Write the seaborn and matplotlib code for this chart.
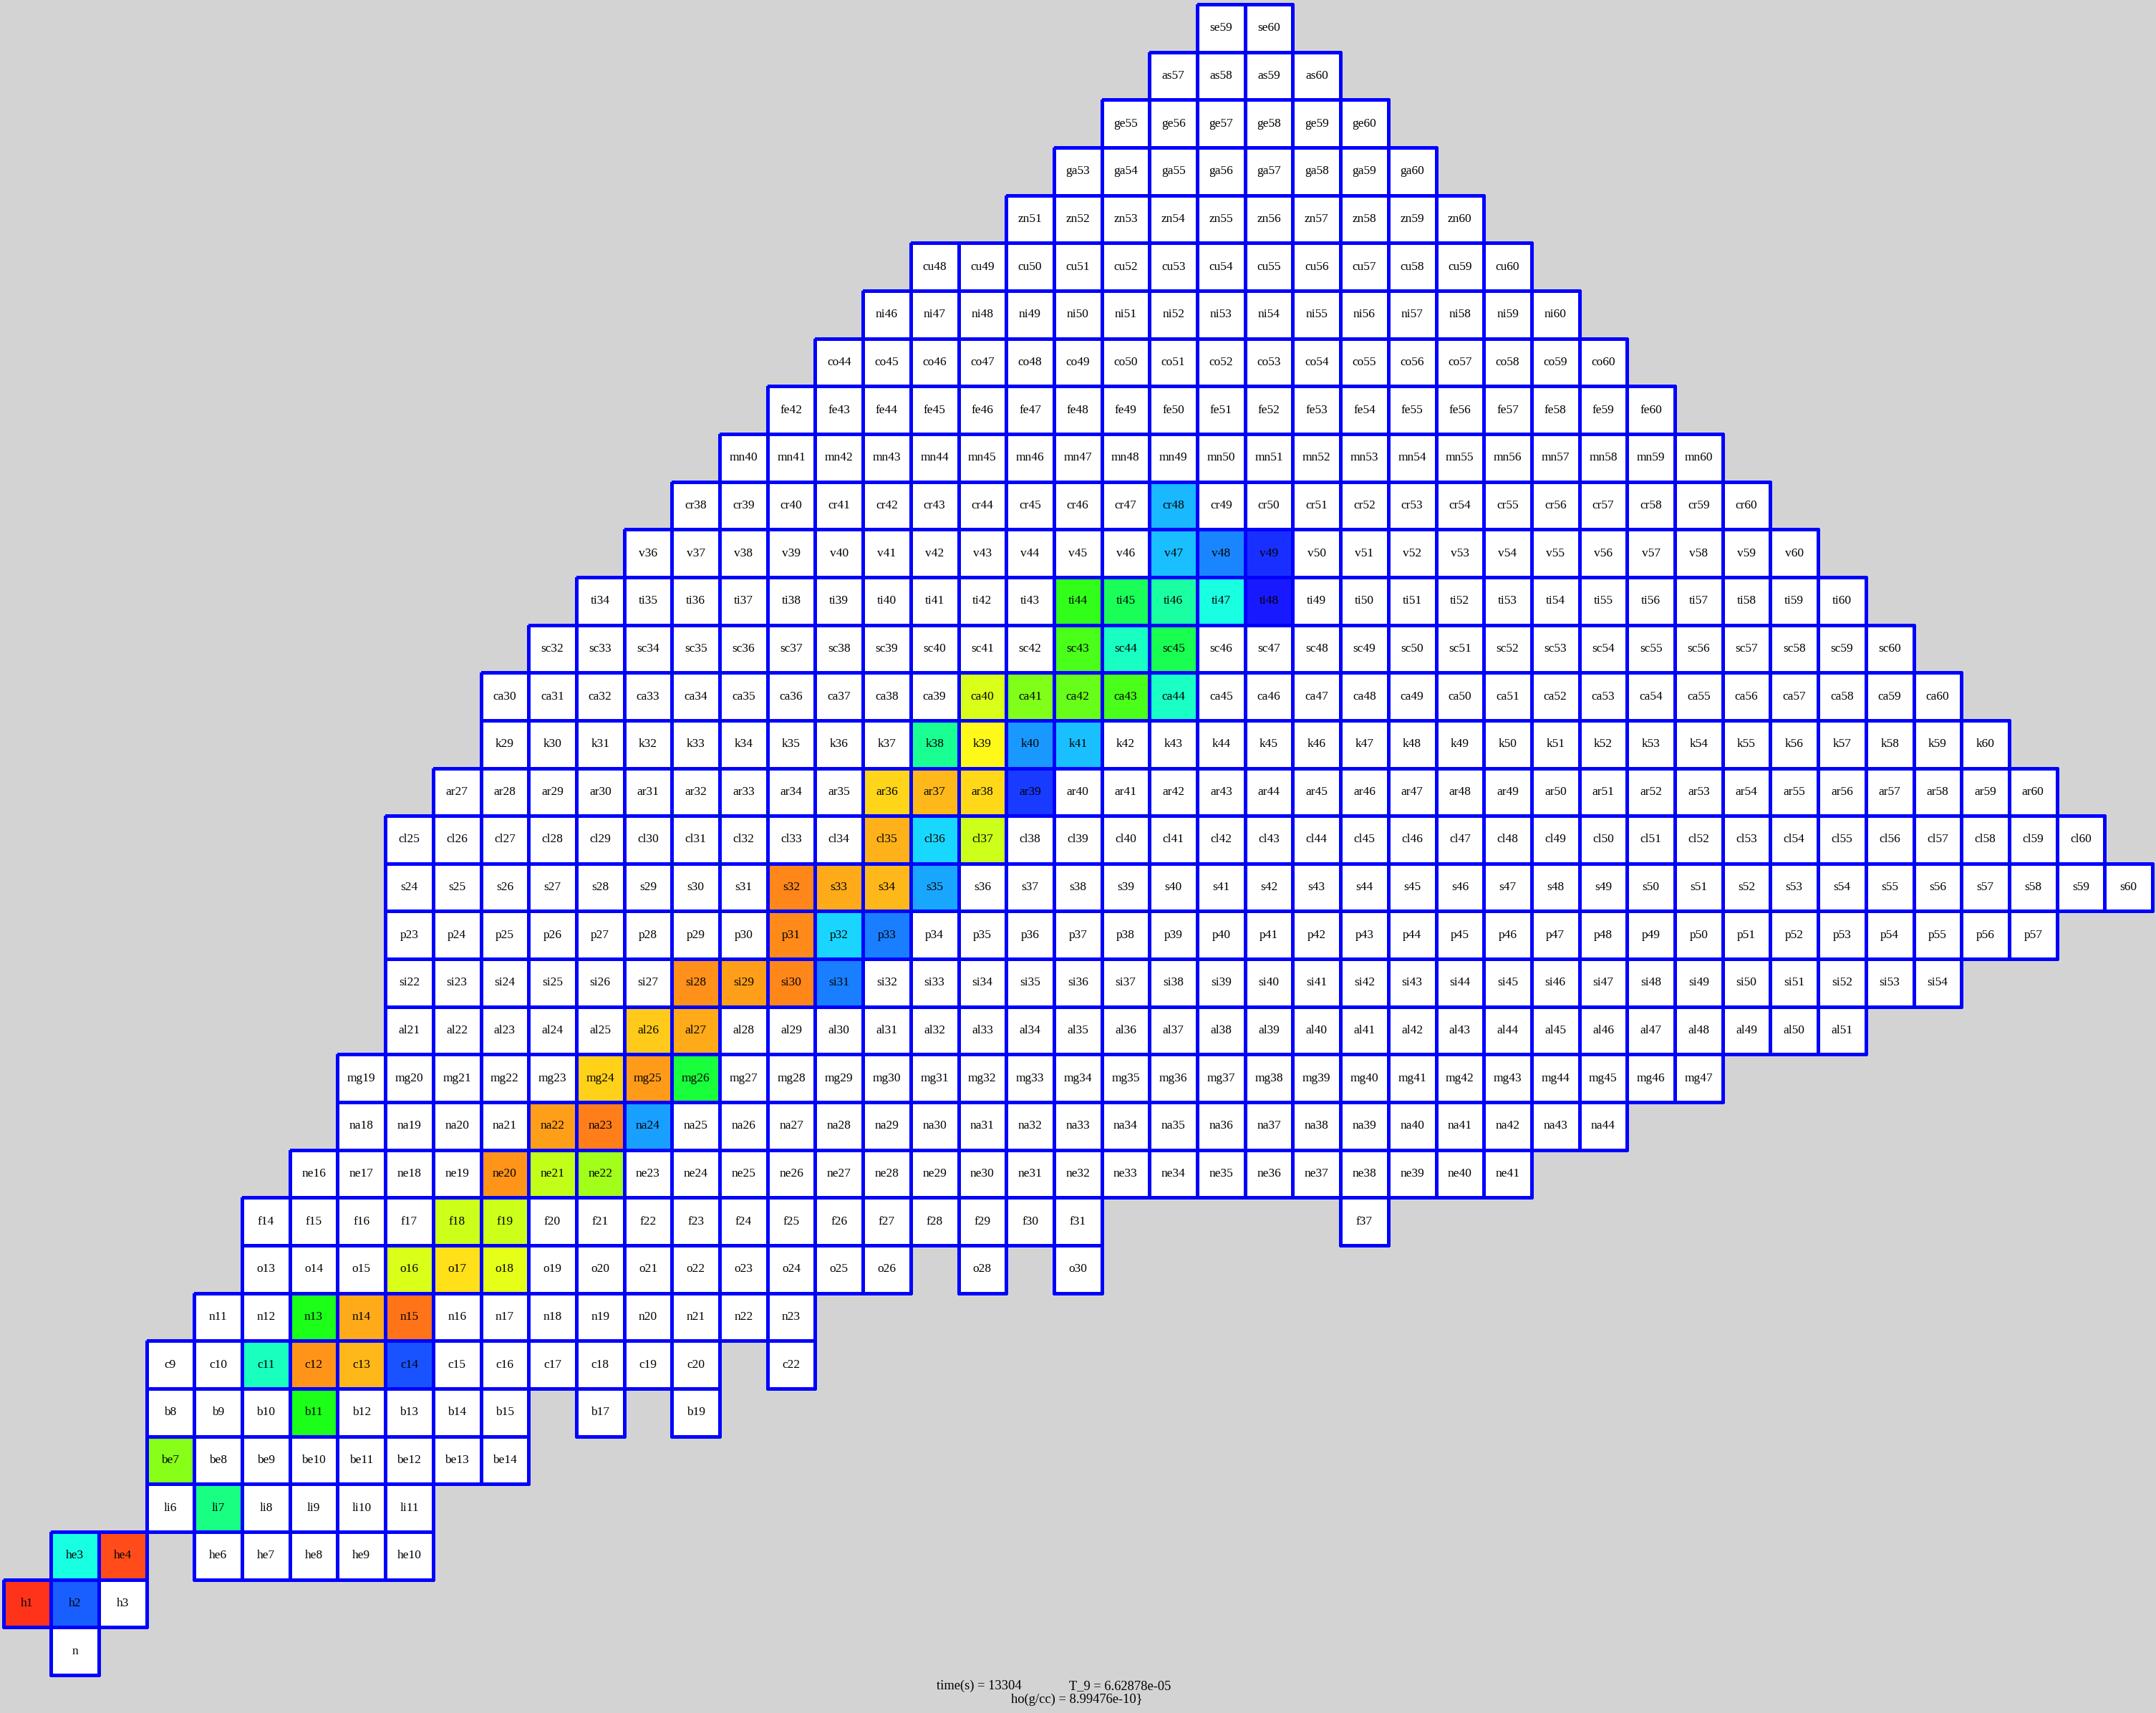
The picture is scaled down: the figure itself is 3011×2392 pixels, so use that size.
import colorsys
import numpy as np
import pandas as pd
import matplotlib
matplotlib.use('Agg')
import matplotlib.pyplot as plt
from matplotlib.colors import ListedColormap
import seaborn as sns

# element symbols indexed by Z (Z=0 is the free neutron)
symbols = ['n', 'h', 'he', 'li', 'be', 'b', 'c', 'n', 'o', 'f',
           'ne', 'na', 'mg', 'al', 'si', 'p', 's', 'cl', 'ar', 'k',
           'ca', 'sc', 'ti', 'v', 'cr', 'mn', 'fe', 'co', 'ni', 'cu',
           'zn', 'ga', 'ge', 'as', 'se']

# lightest and heaviest mass number in the network for each element
a_first = [1, 1, 3, 6, 7, 8, 9, 11, 13, 14,
           16, 18, 19, 21, 22, 23, 24, 25, 27, 29,
           30, 32, 34, 36, 38, 40, 42, 44, 46, 48,
           51, 53, 55, 57, 59]
a_last = [1, 3, 10, 11, 14, 19, 22, 23, 30, 37,
          41, 44, 47, 51, 54, 57, 60, 60, 60, 60,
          60, 60, 60, 60, 60, 60, 60, 60, 60, 60,
          60, 60, 60, 60, 60]

# mass numbers missing inside those ranges
a_gaps = {'he': [5], 'b': [16, 18], 'c': [21], 'o': [27, 29],
          'f': [32, 33, 34, 35, 36]}

# nuclides above the plotting threshold and their log10 abundance
colored = ['h1', 'h2', 'he3', 'he4', 'li7', 'be7', 'b11', 'c11', 'c12', 'c13',
           'c14', 'n13', 'n14', 'n15', 'o16', 'o17', 'o18', 'f18', 'f19', 'ne20',
           'ne21', 'ne22', 'na22', 'na23', 'na24', 'mg24', 'mg25', 'mg26', 'al26', 'al27',
           'si28', 'si29', 'si30', 'si31', 'p31', 'p32', 'p33', 's32', 's33', 's34',
           's35', 'cl35', 'cl36', 'cl37', 'ar36', 'ar37', 'ar38', 'ar39', 'k38', 'k39',
           'k40', 'k41', 'ca40', 'ca41', 'ca42', 'ca43', 'ca44', 'sc43', 'sc44', 'sc45',
           'ti44', 'ti45', 'ti46', 'ti47', 'ti48', 'v47', 'v48', 'v49', 'cr48']
log_x = [-0.29, -9.25, -7.17, -0.58, -6.17, -3.79, -5.0, -6.79, -1.33, -1.73,
         -9.35, -5.0, -1.58, -1.0, -2.92, -2.17, -2.79, -3.08, -3.05, -1.33,
         -3.17, -3.54, -1.46, -1.13, -8.53, -2.0, -1.42, -5.38, -1.92, -1.58,
         -1.29, -1.46, -1.21, -8.88, -1.25, -7.96, -8.88, -1.21, -1.58, -1.75,
         -8.44, -1.65, -7.92, -3.08, -2.04, -1.75, -2.08, -9.63, -6.29, -2.46,
         -8.62, -8.17, -2.92, -3.88, -4.17, -4.48, -6.86, -4.48, -6.82, -5.60,
         -4.74, -5.69, -6.46, -7.17, -10.0, -8.17, -8.79, -9.75, -8.25]

time_s = '13304'
t9 = '6.62878e-05'
rho = '8.99476e-10'

abund = dict(zip(colored, log_x))
rows = []
for z, (sym, lo, hi) in enumerate(zip(symbols, a_first, a_last)):
    for a in range(lo, hi + 1):
        if a in a_gaps.get(sym, []):
            continue
        name = sym if z == 0 else f'{sym}{a}'
        rows.append((z, a - z, name, abund.get(name, -99.0)))
df = pd.DataFrame(rows, columns=['Z', 'N', 'name', 'logx'])

z_order = list(range(34, -1, -1))
n_order = list(range(45))
grid = df.pivot(index='Z', columns='N', values='logx').reindex(index=z_order, columns=n_order)
labels = (df.pivot(index='Z', columns='N', values='name')
          .reindex(index=z_order, columns=n_order).fillna('').to_numpy())

# blue -> red hue ramp, white below the threshold
hues = np.linspace(240, 0, 256) / 360
cmap = ListedColormap([colorsys.hsv_to_rgb(h, 0.9, 1.0) for h in hues])
cmap.set_under('white')

bg = '#d3d3d3'
fig = plt.figure(figsize=(30.11, 23.92), dpi=100, facecolor=bg)
ax = fig.add_axes([4.5 / 3011, 53 / 2392, 3001.5 / 3011, 2333 / 2392])
sns.heatmap(grid, ax=ax, cmap=cmap, vmin=-10, vmax=0, cbar=False,
            linewidths=2.5, linecolor='blue',
            annot=labels, fmt='',
            annot_kws={'fontsize': 12.5, 'color': 'black', 'family': 'Liberation Serif'},
            xticklabels=False, yticklabels=False)

# no outline on cells that are not in the network
mesh = ax.collections[0]
missing = np.ma.getmaskarray(mesh.get_array()).ravel()
edges = np.tile([0.0, 0.0, 1.0, 1.0], (missing.size, 1))
edges[missing] = [0.0, 0.0, 0.0, 0.0]
mesh.set_edgecolors(edges)
mesh.set_clip_on(False)
ax.set_xlabel('')
ax.set_ylabel('')
ax.set_axis_off()

font = {'fontsize': 13.3, 'family': 'Liberation Serif', 'va': 'baseline', 'ha': 'left'}
fig.text(1308 / 3011, (2392 - 2359) / 2392, f'time(s) = {time_s}', **font)
fig.text(1493 / 3011, (2392 - 2359) / 2392, f'T_9 = {t9}', **font)
fig.text(1412 / 3011, (2392 - 2378) / 2392, f'ho(g/cc) = {rho}}}', **font)

fig.savefig('out.png', dpi=100, facecolor=bg)
